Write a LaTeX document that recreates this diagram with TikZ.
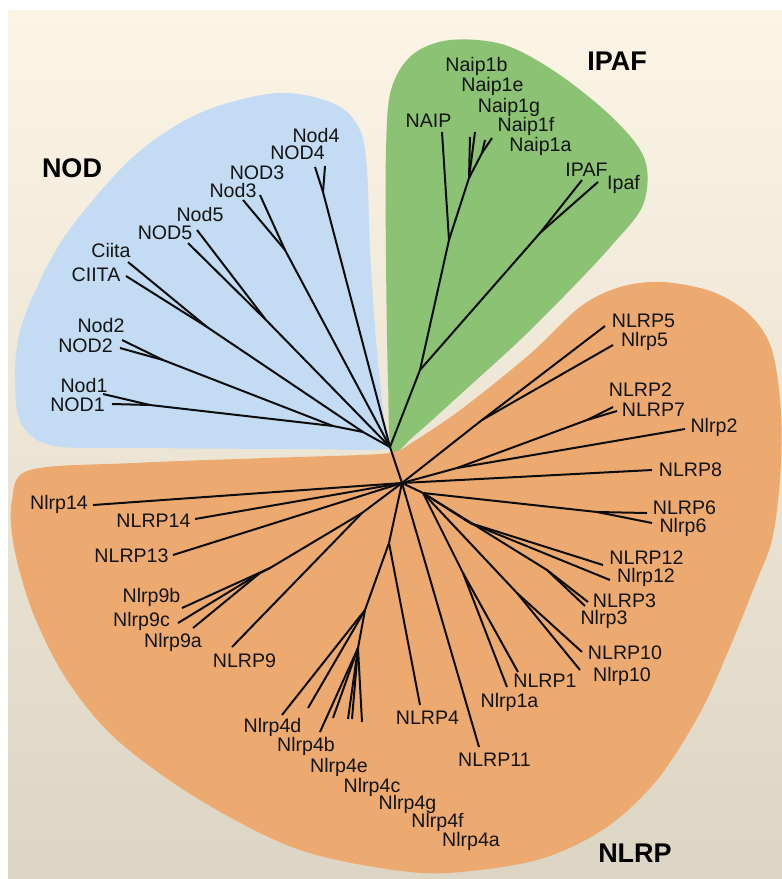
\documentclass[tikz,border=0pt]{standalone}
\usepackage{fontspec}
\setmainfont{Liberation Sans}
\definecolor{bgtop}{RGB}{252,244,229}
\definecolor{bgbot}{RGB}{220,213,196}
\definecolor{nodblue}{RGB}{195,220,243}
\definecolor{ipafgreen}{RGB}{140,194,115}
\definecolor{nlrporange}{RGB}{236,170,112}
\tikzset{
  lab/.style={font=\fontsize{19.6}{22}\selectfont, inner sep=0pt, anchor=base, text=black!92},
  blab/.style={font=\fontsize{27}{30}\selectfont\bfseries, inner sep=0pt, anchor=base},
  branch/.style={draw=black!95, line width=2pt, line join=round}
}
\begin{document}
\begin{tikzpicture}[x=1pt,y=-1pt]
\useasboundingbox (0,0) rectangle (782,879);
\fill[white] (0,0) rectangle (782,879);
\shade[top color=bgtop, bottom color=bgbot] (8,10) rectangle (782,879);

% regions
\fill[nodblue] plot[smooth cycle, tension=0.55] coordinates {
 (392,448) (300,449) (150,448) (55,446) (22,425) (15,385) (18,340) (32,298)
 (67,233) (133,157) (200,113) (277,93) (335,104) (360,130) (367,170) (370,250)
 (376,340) (385,425)};
\fill[ipafgreen] plot[smooth cycle, tension=0.55] coordinates {
 (392,450) (388,380) (386,260) (386,150) (391,90) (412,55) (450,40) (505,45)
 (560,75) (615,120) (645,160) (643,205) (612,245) (573,287) (520,340) (463,392)
 (415,435)};
\fill[nlrporange] plot[smooth cycle, tension=0.55] coordinates {
 (394,452) (413,442) (463,408) (530,354) (580,307) (620,287) (663,282) (713,292)
 (750,315) (772,350) (781,413) (780,480) (772,540) (757,580) (730,647) (700,713)
 (657,780) (607,827) (547,857) (480,870) (410,872) (300,850) (200,800) (117,740)
 (67,680) (33,613) (14,547) (12,500) (30,470) (133,463) (267,458) (360,455)};

% ---- coordinates ----
\coordinate (R) at (390,447);
\coordinate (H) at (402,483);
% NOD
\coordinate (nA) at (323,192); \coordinate (tNod4) at (325,166); \coordinate (tNOD4) at (315,167);
\coordinate (nB) at (285,250); \coordinate (tNOD3) at (260,195); \coordinate (tNod3) at (243,200);
\coordinate (nC) at (266,320); \coordinate (tNod5) at (197,230); \coordinate (tNOD5) at (188,243);
\coordinate (nD) at (207,327); \coordinate (tCiita) at (128,262); \coordinate (tCIITA) at (126,276);
\coordinate (nE) at (163,360); \coordinate (tNod2) at (122,340); \coordinate (tNOD2) at (120,348);
\coordinate (nF) at (150,405); \coordinate (tNod1) at (103,394); \coordinate (tNOD1) at (112,404);
\coordinate (nG) at (333,426); \coordinate (nH) at (363,432);
% IPAF
\coordinate (g1) at (420,370); \coordinate (g2) at (449,240); \coordinate (tNAIP) at (442,132);
\coordinate (g3) at (469,178); \coordinate (tN1b) at (470,137); \coordinate (tN1e) at (475,132);
\coordinate (g4) at (482,153); \coordinate (tN1g) at (485,140); \coordinate (tN1f) at (492,138);
\coordinate (g5) at (540,233); \coordinate (tIPAF) at (582,180); \coordinate (tIpaf) at (598,182);
% NLRP
\coordinate (o5) at (482,420); \coordinate (tNLRP5) at (605,326); \coordinate (tNlrp5) at (613,345);
\coordinate (o2) at (457,468); \coordinate (o2a) at (587,420); \coordinate (tNLRP2) at (613,407);
\coordinate (tNLRP7) at (617,411); \coordinate (tNlrp2) at (685,429);
\coordinate (tNLRP8) at (652,470);
\coordinate (h2) at (423,493);
\coordinate (o6) at (597,512); \coordinate (tNLRP6) at (647,513); \coordinate (tNlrp6) at (652,523);
\coordinate (o12) at (470,523); \coordinate (tNLRP12) at (603,565); \coordinate (tNlrp12) at (610,580);
\coordinate (o3) at (547,570); \coordinate (tNLRP3) at (588,602); \coordinate (tNlrp3) at (585,606);
\coordinate (o10) at (517,593); \coordinate (tNLRP10) at (582,652); \coordinate (tNlrp10) at (580,670);
\coordinate (o1) at (463,573); \coordinate (tNLRP1) at (518,672); \coordinate (tNlrp1a) at (507,687);
\coordinate (tNLRP11) at (479,747);
\coordinate (h3) at (389,543); \coordinate (tNLRP4) at (420,705);
\coordinate (o4) at (365,610); \coordinate (t4d) at (282,715); \coordinate (t4b) at (308,708);
\coordinate (o4b) at (358,648); \coordinate (t4e) at (320,732); \coordinate (t4c) at (333,718);
\coordinate (t4g) at (348,719); \coordinate (t4f) at (352,719); \coordinate (t4a) at (362,722);
\coordinate (h4) at (362,513); \coordinate (o9) at (270,568); \coordinate (t9b) at (182,608);
\coordinate (o9a) at (260,573); \coordinate (t9c) at (178,623); \coordinate (t9a) at (193,628);
\coordinate (tNLRP9) at (232,647);
\coordinate (tNLRP13) at (173,555); \coordinate (tNLRP14) at (195,519); \coordinate (tNlrp14) at (93,505);

% ---- branches ----
% NOD
\draw[branch] (tNod4) -- (nA) -- (R);
\draw[branch] (tNOD4) -- (nA);
\draw[branch] (tNOD3) -- (nB) -- (R);
\draw[branch] (tNod3) -- (nB);
\draw[branch] (tNod5) -- (nC) -- (R);
\draw[branch] (tNOD5) -- (nC);
\draw[branch] (tCiita) -- (nD) -- (nH) -- (R);
\draw[branch] (tCIITA) -- (nD);
\draw[branch] (tNod2) -- (nE) -- (nG) -- (nH);
\draw[branch] (tNOD2) -- (nE);
\draw[branch] (tNod1) -- (nF) -- (nG);
\draw[branch] (tNOD1) -- (nF);
% IPAF
\draw[branch] (R) -- (g1) -- (g2) -- (tNAIP);
\draw[branch] (g2) -- (g3) -- (tN1b);
\draw[branch] (g3) -- (tN1e);
\draw[branch] (g3) -- (g4) -- (tN1g);
\draw[branch] (g4) -- (tN1f);
\draw[branch] (g1) -- (g5) -- (tIPAF);
\draw[branch] (g5) -- (tIpaf);
% NLRP
\draw[branch] (R) -- (H);
\draw[branch] (H) -- (o5) -- (tNLRP5);
\draw[branch] (o5) -- (tNlrp5);
\draw[branch] (H) -- (o2) -- (o2a) -- (tNLRP2);
\draw[branch] (o2a) -- (tNLRP7);
\draw[branch] (o2) -- (tNlrp2);
\draw[branch] (H) -- (tNLRP8);
\draw[branch] (H) -- (h2) -- (o6) -- (tNLRP6);
\draw[branch] (o6) -- (tNlrp6);
\draw[branch] (h2) -- (o12) -- (tNLRP12);
\draw[branch] (o12) -- (tNlrp12);
\draw[branch] (h2) -- (o3) -- (tNLRP3);
\draw[branch] (o3) -- (tNlrp3);
\draw[branch] (h2) -- (o10) -- (tNLRP10);
\draw[branch] (o10) -- (tNlrp10);
\draw[branch] (h2) -- (o1) -- (tNLRP1);
\draw[branch] (o1) -- (tNlrp1a);
\draw[branch] (H) -- (tNLRP11);
\draw[branch] (H) -- (h3) -- (tNLRP4);
\draw[branch] (h3) -- (o4) -- (t4d);
\draw[branch] (o4) -- (t4b);
\draw[branch] (o4) -- (o4b) -- (t4e);
\draw[branch] (o4b) -- (t4c);
\draw[branch] (o4b) -- (t4g);
\draw[branch] (o4b) -- (t4f);
\draw[branch] (o4b) -- (t4a);
\draw[branch] (H) -- (h4) -- (o9) -- (t9b);
\draw[branch] (o9) -- (o9a) -- (t9c);
\draw[branch] (o9a) -- (t9a);
\draw[branch] (h4) -- (tNLRP9);
\draw[branch] (H) -- (tNLRP13);
\draw[branch] (H) -- (tNLRP14);
\draw[branch] (H) -- (tNlrp14);

% ---- labels ----
\node[blab] (LNOD) at (72,177) {NOD};
\node[blab] (LIPAF) at (617,70) {IPAF};
\node[blab] (LNLRP) at (635,862) {NLRP};

\node[lab] (lNod4) at (316,142.5) {Nod4};
\node[lab] (lNOD4) at (297.5,159.5) {NOD4};
\node[lab] (lNOD3) at (257,179) {NOD3};
\node[lab] (lNod3) at (233,197) {Nod3};
\node[lab] (lNod5) at (200,221.5) {Nod5};
\node[lab] (lNOD5) at (165,239.5) {NOD5};
\node[lab] (lCiita) at (111,257.5) {Ciita};
\node[lab] (lCIITA) at (96,281.5) {CIITA};
\node[lab] (lNod2) at (101,332.5) {Nod2};
\node[lab] (lNOD2) at (85.5,352.5) {NOD2};
\node[lab] (lNod1) at (84,392.5) {Nod1};
\node[lab] (lNOD1) at (77.5,411.5) {NOD1};

\node[lab] (lN1b) at (476.5,71.5) {Naip1b};
\node[lab] (lN1e) at (492.5,91.5) {Naip1e};
\node[lab] (lN1g) at (509,112.5) {Naip1g};
\node[lab] (lNAIP) at (428.5,127.5) {NAIP};
\node[lab] (lN1f) at (526,131.5) {Naip1f};
\node[lab] (lN1a) at (540.5,151.5) {Naip1a};
\node[lab] (lIPAF) at (586.5,176.5) {IPAF};
\node[lab] (lIpaf) at (623.5,189.5) {Ipaf};

\node[lab] (lNLRP5) at (643.5,327.5) {NLRP5};
\node[lab] (lNlrp5) at (644.5,346.5) {Nlrp5};
\node[lab] (lNLRP2) at (640.5,396.5) {NLRP2};
\node[lab] (lNLRP7) at (653.5,416.5) {NLRP7};
\node[lab] (lNlrp2) at (714,432.5) {Nlrp2};
\node[lab] (lNLRP8) at (690.5,476.5) {NLRP8};
\node[lab] (lNLRP6) at (684.5,514.5) {NLRP6};
\node[lab] (lNlrp6) at (683,532.5) {Nlrp6};
\node[lab] (lNLRP12) at (646.5,564.5) {NLRP12};
\node[lab] (lNlrp12) at (646,582.5) {Nlrp12};
\node[lab] (lNLRP3) at (624.5,607.5) {NLRP3};
\node[lab] (lNlrp3) at (604,624.5) {Nlrp3};
\node[lab] (lNLRP10) at (625,659.5) {NLRP10};
\node[lab] (lNlrp10) at (622,681.5) {Nlrp10};
\node[lab] (lNLRP1) at (545,687.5) {NLRP1};
\node[lab] (lNlrp1a) at (509.5,707.5) {Nlrp1a};
\node[lab] (lNLRP4) at (427.5,724.5) {NLRP4};
\node[lab] (lNLRP11) at (494.5,766.5) {NLRP11};
\node[lab] (lNlrp14) at (59,509.5) {Nlrp14};
\node[lab] (lNLRP14) at (153.5,527.5) {NLRP14};
\node[lab] (lNLRP13) at (131.5,562.5) {NLRP13};
\node[lab] (lNlrp9b) at (151.5,602.5) {Nlrp9b};
\node[lab] (lNlrp9c) at (141.5,626.5) {Nlrp9c};
\node[lab] (lNlrp9a) at (173,647.5) {Nlrp9a};
\node[lab] (lNLRP9) at (244.5,667.5) {NLRP9};
\node[lab] (lNlrp4d) at (272.5,732.5) {Nlrp4d};
\node[lab] (lNlrp4b) at (306,751.5) {Nlrp4b};
\node[lab] (lNlrp4e) at (339,772.5) {Nlrp4e};
\node[lab] (lNlrp4c) at (372,792.5) {Nlrp4c};
\node[lab] (lNlrp4g) at (407.5,809.5) {Nlrp4g};
\node[lab] (lNlrp4f) at (437.5,827.5) {Nlrp4f};
\node[lab] (lNlrp4a) at (471,846.5) {Nlrp4a};
\end{tikzpicture}
\end{document}
